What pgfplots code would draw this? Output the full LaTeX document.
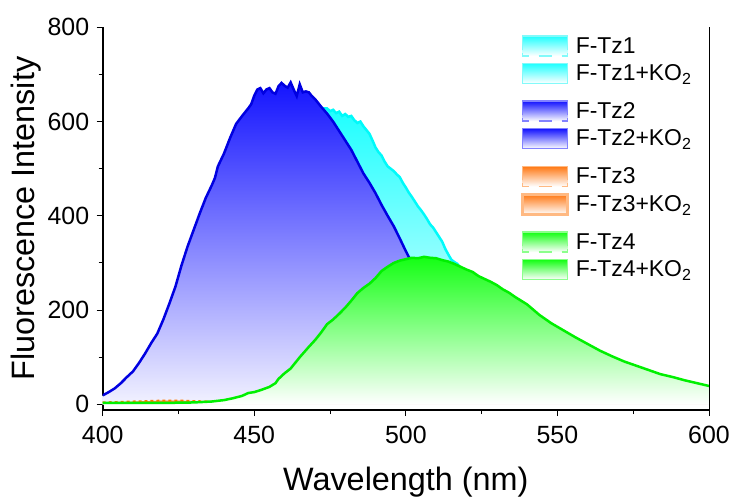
\documentclass[border=0pt]{standalone}
\usepackage{fontspec}
\setmainfont{Liberation Sans}
\usepackage{pgfplots}
\pgfplotsset{compat=1.18}
\usepackage{pgfplotstable}

\definecolor{cyanline}{RGB}{0,250,250}
\definecolor{cyanfill}{RGB}{30,255,255}
\definecolor{blueline}{RGB}{0,0,225}
\definecolor{bluefill}{RGB}{20,20,255}
\definecolor{bluebot}{RGB}{242,242,255}
\definecolor{greenline}{RGB}{0,240,0}
\definecolor{greenfill}{RGB}{20,255,20}
\definecolor{orangeline}{RGB}{255,120,0}
\definecolor{orangefill}{RGB}{255,120,20}
\definecolor{cyanborder}{RGB}{130,250,250}
\definecolor{blueborder}{RGB}{130,130,255}
\definecolor{orangeborder}{RGB}{255,185,130}
\definecolor{greenborder}{RGB}{140,255,140}

% F-Tz1
\pgfplotstableread{
x y
400 15
410 55
420 150
430 330
440 480
450 590
460 620
470 626
472 628
474 628
475 622
476 625
477 618
478 621
479 612
480 616
481 610
482 612
483 603
484 597
485 600
486 590
487 582
488 574
489 560
490 545
491 535
492 528
493 515
494 505
495 500
496 495
497 488
498 482
499 470
500 460
501 449
502 440
503 430
504 420
505 412
506 403
507 393
508 382
509 375
510 365
511 355
512 345
513 330
514 318
515 307
516 302
517 298
518 290
520 270
525 230
530 190
540 130
550 85
560 55
570 35
580 22
590 14
600 9
}\tzone

% F-Tz2
\pgfplotstableread{
x y
400 19
402 26
404 34
406 45
408 58
410 70
412 88
414 108
416 130
418 150
420 180
422 214
424 250
426 295
428 335
430 370
432 405
434 438
436 465
437 480
438 505
440 532
442 565
444 595
446 612
448 628
449 637
450 655
451 668
452 671
453 660
454 668
455 671
456 662
457 659
458 675
459 682
460 676
461 672
462 683
463 668
464 654
465 679
466 662
467 664
468 662
469 654
470 648
471 640
472 632
474 617
476 600
478 580
480 560
482 540
484 515
486 490
488 470
490 448
492 423
494 400
496 378
498 352
500 325
502 300
504 275
506 250
510 210
515 165
520 125
530 75
540 45
550 28
560 18
580 10
600 6
}\tztwo

% F-Tz3
\pgfplotstableread{
x y
400 4
405 5
410 6
415 7
420 8
425 8
430 7
435 6
440 5
450 4
470 3.5
500 3.5
550 3.5
600 3.5
}\tzthree

% F-Tz4
\pgfplotstableread{
x y
400 3
410 3
420 3
430 4
436 6
440 9
443 13
446 18
448 24
450 26
452 30
455 37
457 45
458 54
460 66
462 76
465 100
468 122
470 136
472 152
474 170
476 180
478 192
480 205
482 220
484 236
486 247
488 256
490 268
492 283
494 292
496 300
498 305
500 308
502 311
504 310
506 313
508 311
510 310
512 306
514 303
516 298
518 292
520 286
522 281
524 272
526 266
528 260
530 253
532 244
534 237
536 228
538 220
540 212
544 190
548 172
552 157
556 142
560 128
564 114
568 102
572 91
576 82
580 73
584 64
588 58
592 51
596 45
600 39
}\tzfour

% solid-bordered swatch: #1 fill colour, #2 border colour, #3 border width, #4 depth below
\newcommand{\swatch}[4]{%
  \path[draw=none, fill=none] (0bp,-#4) -- (0bp,10bp);
  \path[draw=none, top color=#1, bottom color=white] (0bp,-10bp) rectangle (45bp,10bp);
  \path[draw=#2, fill=none, line width=#3] (0bp,-10bp) rectangle (45bp,10bp);}
% dashed-bordered swatch: #1 fill colour, #2 border colour
\newcommand{\dswatch}[2]{%
  \path[draw=none, top color=#1, bottom color=white] (0bp,-10bp) rectangle (45bp,10bp);
  \path[draw=#2, fill=none, line width=1.5bp] (0bp,-4bp) -- (0bp,10bp) -- (45bp,10bp) -- (45bp,-4bp);
  \path[draw=#2, fill=none, line width=1.5bp] (0bp,-7bp) -- (0bp,-10bp) -- (6bp,-10bp);
  \path[draw=#2, fill=none, line width=1.5bp] (16bp,-10bp) -- (29bp,-10bp);
  \path[draw=#2, fill=none, line width=1.5bp] (39bp,-10bp) -- (45bp,-10bp) -- (45bp,-7bp);}

\begin{document}
\begin{tikzpicture}
\useasboundingbox (-102.7bp,-89bp) rectangle (628.3bp,410bp);
\begin{axis}[
  at={(0,0)}, anchor=south west,
  scale only axis, width=606.3bp, height=382.7bp,
  xmin=400, xmax=600, ymin=-12, ymax=800,
  xtick={400,450,...,600}, ytick={0,200,...,800},
  minor x tick num=1, minor y tick num=1,
  tick align=outside, xtick pos=bottom, ytick pos=left,
  major tick length=6bp, minor tick length=4bp,
  axis x line*=bottom, axis y line*=left,
  x axis line style={line width=1.2bp,-},
  y axis line style={line width=2bp,-},
  every tick/.style={black, line width=1bp},
  tick label style={font=\fontsize{25}{29}\selectfont},
  xticklabel style={yshift=-7bp},
  yticklabel style={xshift=-4bp},
  /pgf/number format/assume math mode=true,
  /pgf/number format/1000 sep={},
  xlabel={Wavelength (nm)},
  ylabel={Fluorescence Intensity},
  label style={font=\fontsize{32.5}{36}\selectfont},
  xlabel style={at={(axis description cs:0.5,0)}, anchor=base, yshift=-80.5bp},
  ylabel style={at={(axis description cs:0,0.5)}, anchor=center, yshift=77bp},
  legend style={at={(axis description cs:0.69,0.98)}, anchor=north west,
    draw=none, fill=none, font=\fontsize{23}{27}\selectfont,
    row sep=6bp, inner sep=0pt,
    nodes={inner sep=2bp},
    /tikz/every odd column/.append style={column sep=5bp}},
  legend cell align=left,
  extra description/.code={\draw[line width=1bp] (1,0) -- (1,1);},
]
% legend
\addlegendimage{draw=none, legend image code/.code={\dswatch{cyanfill}{cyanborder}}}
\addlegendentry{F-Tz1}
\addlegendimage{draw=none, legend image code/.code={\swatch{cyanfill}{cyanborder}{1.5bp}{21bp}}}
\addlegendentry{F-Tz1+KO\textsubscript{2}}
\addlegendimage{draw=none, legend image code/.code={\dswatch{bluefill}{blueborder}}}
\addlegendentry{F-Tz2}
\addlegendimage{draw=none, legend image code/.code={\swatch{bluefill}{blueborder}{1.5bp}{21bp}}}
\addlegendentry{F-Tz2+KO\textsubscript{2}}
\addlegendimage{draw=none, legend image code/.code={\dswatch{orangefill}{orangeborder}}}
\addlegendentry{F-Tz3}
\addlegendimage{draw=none, legend image code/.code={\swatch{orangefill}{orangeborder}{2.5bp}{21bp}}}
\addlegendentry{F-Tz3+KO\textsubscript{2}}
\addlegendimage{draw=none, legend image code/.code={\dswatch{greenfill}{greenborder}}}
\addlegendentry{F-Tz4}
\addlegendimage{draw=none, legend image code/.code={\swatch{greenfill}{greenborder}{1.5bp}{10bp}}}
\addlegendentry{F-Tz4+KO\textsubscript{2}}

% F-Tz1
\addplot[draw=none, top color=cyanfill, bottom color=white, forget plot] table {\tzone} \closedcycle;
\addplot[cyanline, line width=2.5bp, forget plot] table {\tzone};
% F-Tz2
\addplot[draw=none, top color=bluefill, bottom color=bluebot, forget plot] table {\tztwo} \closedcycle;
\addplot[blueline, line width=2.5bp, forget plot] table {\tztwo};
% F-Tz3
\addplot[draw=none, top color=orangefill, bottom color=white, forget plot] table {\tzthree} \closedcycle;
\addplot[orangeline, line width=2bp, dashed, forget plot] table {\tzthree};
% F-Tz4
\addplot[draw=none, top color=greenfill, bottom color=white, forget plot] table {\tzfour} \closedcycle;
\addplot[greenline, line width=2.5bp, forget plot] table {\tzfour};
\end{axis}
\end{tikzpicture}
\end{document}
